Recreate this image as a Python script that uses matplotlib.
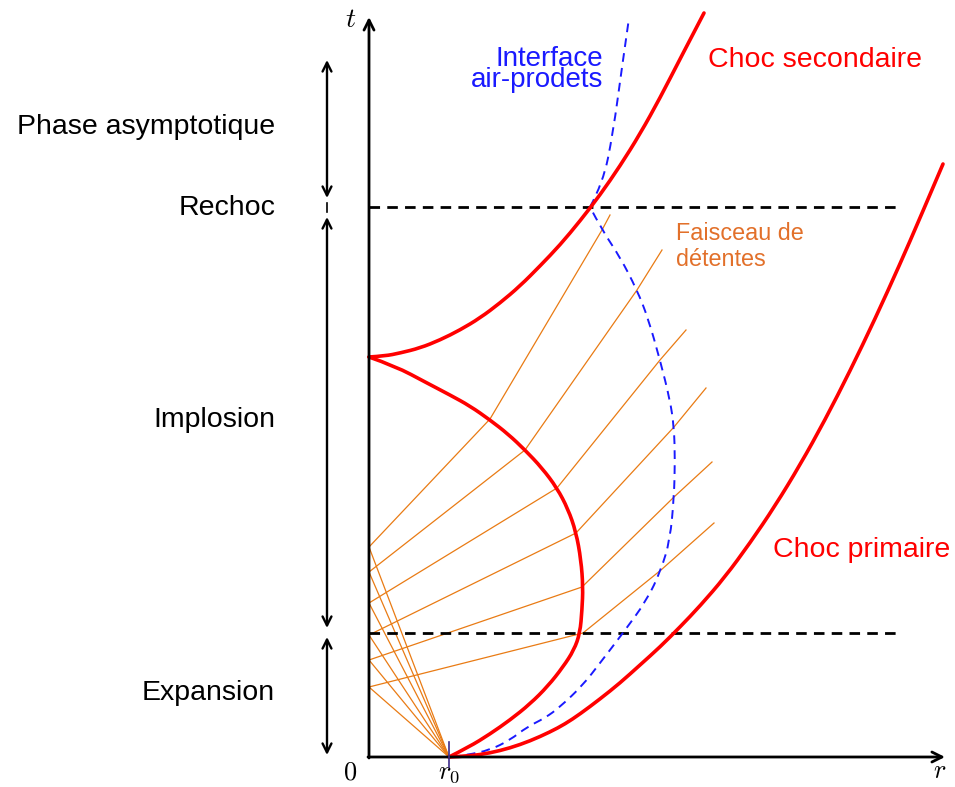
import matplotlib
matplotlib.use('Agg')
import matplotlib.pyplot as plt
from matplotlib.path import Path
from matplotlib.patches import PathPatch

plt.rcParams['font.family'] = ['Liberation Sans', 'DejaVu Sans']
plt.rcParams['mathtext.fontset'] = 'cm'

# schematic (r, t) diagram, arbitrary units, origin at (0, 0)
r0 = 80
t_rechoc = 550
t_expansion_end = 124

# choc secondaire (starts at the cusp on the axis)
sec_r = [0, 16, 31, 51, 71, 91, 111, 131, 151, 171, 191, 211, 231, 251, 271, 291, 311, 335]
sec_t = [400, 401, 404, 409, 417, 427, 439, 454, 471, 491, 512, 536, 562, 591, 623, 659, 698, 744]

# choc implosion (from the cusp back down to r0)
imp_r = [0, 26, 58, 81, 101, 121, 139, 156, 173, 188, 199, 207, 212, 214, 213, 211, 205, 194,
         179, 161, 141, 121, 100, 80]
imp_t = [400, 391, 374, 362, 351, 337, 323, 307, 289, 269, 248, 225, 197, 170, 147, 124, 107, 90,
         71, 53, 37, 23, 10, 0]

# choc primaire
prim_r = [80, 101, 121, 141, 161, 181, 196, 211, 231, 251, 271, 291, 311, 331, 356, 381, 406,
          431, 456, 481, 506, 531, 551, 574]
prim_t = [0, 1, 4, 9, 16, 25, 33, 43, 58, 74, 92, 110, 130, 151, 180, 214, 251, 292, 337, 386,
          438, 493, 539, 593]

# interface air-produits (lower part up to the rechoc, then upper part)
int_low_r = [83, 98, 121, 141, 158, 176, 191, 214, 231, 254, 278, 292, 301, 305, 306, 305, 301,
             291, 279, 268, 251, 233, 221]
int_low_t = [0, 2, 7, 17, 30, 39, 50, 72, 94, 124, 157, 187, 217, 260, 297, 330, 357, 397, 439,
             467, 500, 527, 550]
int_up_r = [221, 234, 244, 253, 260]
int_up_t = [550, 574, 624, 690, 739]

# faisceau de detentes: axis point -> implosion shock -> interface -> end
fan_axis_t = [210, 185, 154, 122, 97, 70]
fan_shock = [(121, 338), (156, 307), (188, 269), (207, 224), (213, 170), (214, 124)]
fan_interface = [(233, 527), (268, 467), (291, 397), (305, 330), (305, 260), (292, 187)]
fan_end = [(241, 542), (293, 507), (317, 427), (337, 369), (343, 295), (345, 234)]

# phases on the left
phase_labels = ['Phase asymptotique', 'Rechoc', 'Implosion', 'Expansion']
phase_label_t = [630, 549, 337, 64]
phase_spans = [(697, 559), (540, 129), (120, 2)]

RED = '#ff0000'
BLUE = '#1a1aff'
ORANGE = '#e97b14'


def smooth(ax, r, t, **kw):
    # quadratic B-spline through the listed points, drawn by matplotlib
    pts = list(zip(r, t))
    verts = [pts[0]]
    codes = [Path.MOVETO]
    for i in range(1, len(pts) - 2):
        mid = ((pts[i][0] + pts[i + 1][0]) / 2, (pts[i][1] + pts[i + 1][1]) / 2)
        verts += [pts[i], mid]
        codes += [Path.CURVE3, Path.CURVE3]
    verts += [pts[-2], pts[-1]]
    codes += [Path.CURVE3, Path.CURVE3]
    ax.add_patch(PathPatch(Path(verts, codes), fill=False, **kw))


fig = plt.figure(figsize=(9.55, 7.87), dpi=100)
ax = fig.add_axes([0, 0, 1, 1])
ax.set_xlim(-369, 586)
ax.set_ylim(-30, 757)
ax.axis('off')

# fan from r0 to the axis, then reflected rays
for i, ta in enumerate(fan_axis_t):
    ax.plot([r0, 0], [0, ta], color=ORANGE, lw=0.9, zorder=2)
    rr = [0, fan_shock[i][0], fan_interface[i][0], fan_end[i][0]]
    tt = [ta, fan_shock[i][1], fan_interface[i][1], fan_end[i][1]]
    ax.plot(rr, tt, color=ORANGE, lw=0.9, zorder=2)

# dashed time lines
for tl in [t_rechoc, t_expansion_end]:
    ax.plot([0, 529], [tl, tl], color='black', lw=2.0, linestyle=(0, (3.8, 2.6)), zorder=3)

smooth(ax, int_low_r, int_low_t, edgecolor=BLUE, lw=1.4, linestyle=(0, (4.5, 3.2)), zorder=4)
smooth(ax, int_up_r, int_up_t, edgecolor=BLUE, lw=1.4, linestyle=(0, (4.5, 3.2)), zorder=4)
for cr, ct in [(sec_r, sec_t), (imp_r, imp_t), (prim_r, prim_t)]:
    smooth(ax, cr, ct, edgecolor=RED, lw=2.6, zorder=5, capstyle='round')

# axes with arrows
arrow_kw = dict(arrowstyle='->', lw=2.0, color='black', shrinkA=0, shrinkB=0, mutation_scale=18)
ax.annotate('', xy=(0, 740), xytext=(0, -1), arrowprops=arrow_kw, zorder=6)
ax.annotate('', xy=(576, 0), xytext=(-1, 0), arrowprops=arrow_kw, zorder=6)
ax.plot([r0, r0], [-10, 15], color='#3d2b8a', lw=1.2, zorder=7)

ax.text(-18, 737, '$t$', fontsize=20, ha='center', va='center')
ax.text(-19, -16, '$0$', fontsize=19, ha='center', va='center')
ax.text(r0, -16, '$r_0$', fontsize=19, ha='center', va='center')
ax.text(571, -14, '$r$', fontsize=19, ha='center', va='center')

# phase arrows on the left
span_kw = dict(arrowstyle='<->', lw=1.7, color='black', shrinkA=0, shrinkB=0, mutation_scale=16)
for top, bot in phase_spans:
    ax.annotate('', xy=(-42, top), xytext=(-42, bot), arrowprops=span_kw)
ax.plot([-42, -42], [545, 554], color='black', lw=1.2)

for lab, tl in zip(phase_labels, phase_label_t):
    ax.text(-94, tl, lab, fontsize=20.5, ha='right', va='center')

ax.text(234, 698, 'Interface', fontsize=20, color=BLUE, ha='right', va='center')
ax.text(234, 677, 'air-prodets', fontsize=20, color=BLUE, ha='right', va='center')
ax.text(339, 697, 'Choc secondaire', fontsize=20.5, color=RED, ha='left', va='center')
ax.text(404, 207, 'Choc primaire', fontsize=20.5, color=RED, ha='left', va='center')
ax.text(307, 524, 'Faisceau de', fontsize=16.8, color='#e2702a', ha='left', va='center')
ax.text(307, 497, 'détentes', fontsize=16.8, color='#e2702a', ha='left', va='center')

fig.savefig('out.png', dpi=100)
